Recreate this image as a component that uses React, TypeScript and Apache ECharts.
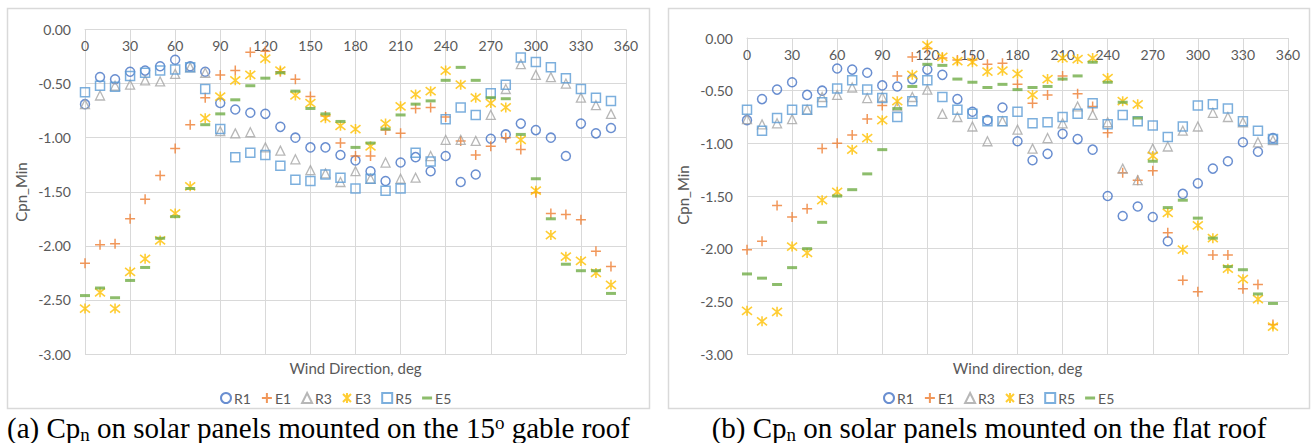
import React, { useEffect, useRef } from "react";
import * as echarts from "echarts";

const directions = [0, 10, 20, 30, 40, 50, 60, 70, 80, 90, 100, 110, 120, 130, 140, 150, 160, 170, 180, 190, 200, 210, 220, 230, 240, 250, 260, 270, 280, 290, 300, 310, 320, 330, 340, 350];
const seriesNames = ["R1", "E1", "R3", "E3", "R5", "E5"];

// (a) 15 deg gable roof
const R1a = [-0.69, -0.44, -0.46, -0.39, -0.38, -0.34, -0.28, -0.34, -0.39, -0.68, -0.74, -0.77, -0.78, -0.90, -1.00, -1.09, -1.09, -1.16, -1.21, -1.31, -1.40, -1.23, -1.18, -1.31, -1.17, -1.41, -1.34, -1.01, -0.97, -0.87, -0.93, -1.00, -1.17, -0.87, -0.96, -0.91];
const E1a = [-2.16, -1.99, -1.98, -1.75, -1.57, -1.35, -1.10, -0.88, -0.63, -0.42, -0.38, -0.21, -0.20, -0.39, -0.46, -0.62, -0.80, -1.05, -1.17, -1.17, -0.93, -0.96, -0.73, -0.72, -0.81, -1.03, -1.16, -1.08, -1.00, -1.11, -1.51, -1.70, -1.71, -1.76, -2.05, -2.19];
const R3a = [-0.69, -0.61, -0.52, -0.51, -0.47, -0.48, -0.41, -0.35, -0.40, -0.94, -0.96, -0.95, -1.09, -1.12, -1.20, -1.30, -1.33, -1.41, -1.31, -1.38, -1.23, -1.38, -1.37, -1.17, -1.02, -1.02, -1.03, -0.79, -0.55, -0.32, -0.42, -0.44, -0.50, -0.63, -0.70, -0.78];
const E3a = [-2.58, -2.43, -2.58, -2.24, -2.12, -1.95, -1.70, -1.45, -0.82, -0.62, -0.47, -0.42, -0.27, -0.38, -0.61, -0.68, -0.82, -0.89, -0.92, -1.08, -0.87, -0.71, -0.60, -0.57, -0.38, -0.51, -0.63, -0.68, -0.72, -1.02, -1.49, -1.90, -2.10, -2.14, -2.25, -2.36];
const R5a = [-0.58, -0.52, -0.53, -0.43, -0.40, -0.38, -0.37, -0.35, -0.55, -0.92, -1.18, -1.14, -1.16, -1.26, -1.39, -1.40, -1.34, -1.37, -1.47, -1.38, -1.49, -1.47, -1.14, -1.22, -0.83, -0.72, -0.79, -0.59, -0.51, -0.26, -0.30, -0.35, -0.45, -0.55, -0.63, -0.66];
const E5a = [-2.46, -2.39, -2.48, -2.32, -2.20, -1.93, -1.73, -1.47, -0.88, -0.78, -0.65, -0.52, -0.45, -0.40, -0.57, -0.73, -0.78, -0.85, -1.09, -1.05, -0.92, -0.79, -0.69, -0.66, -0.47, -0.35, -0.47, -0.63, -0.64, -0.97, -1.38, -1.75, -2.17, -2.23, -2.23, -2.44];

// (b) flat roof
const R1b = [-0.78, -0.58, -0.49, -0.42, -0.54, -0.50, -0.29, -0.30, -0.33, -0.45, -0.46, -0.39, -0.30, -0.35, -0.58, -0.70, -0.78, -0.66, -0.98, -1.16, -1.10, -0.91, -0.96, -1.06, -1.50, -1.69, -1.60, -1.70, -1.93, -1.48, -1.38, -1.24, -1.17, -0.99, -1.08, -0.95];
const E1b = [-2.01, -1.93, -1.59, -1.70, -1.62, -1.05, -1.00, -0.92, -0.77, -0.64, -0.36, -0.18, -0.10, -0.19, -0.21, -0.21, -0.25, -0.24, -0.44, -0.62, -0.54, -0.36, -0.53, -0.65, -0.90, -1.28, -1.35, -1.26, -1.85, -2.30, -2.41, -2.06, -2.06, -2.38, -2.34, -2.72];
const R3b = [-0.77, -0.82, -0.81, -0.77, -0.68, -0.56, -0.54, -0.47, -0.57, -0.56, -0.65, -0.56, -0.49, -0.72, -0.75, -0.84, -0.98, -0.79, -0.87, -1.05, -0.95, -0.81, -0.65, -0.73, -0.80, -1.24, -1.35, -1.05, -1.03, -0.88, -0.84, -0.71, -0.75, -0.80, -0.99, -0.97];
const E3b = [-2.59, -2.69, -2.60, -1.98, -2.04, -1.54, -1.46, -1.06, -0.95, -0.78, -0.60, -0.35, -0.07, -0.18, -0.22, -0.23, -0.32, -0.31, -0.34, -0.54, -0.39, -0.19, -0.20, -0.19, -0.38, -0.60, -0.63, -1.12, -1.66, -2.01, -1.78, -1.90, -2.19, -2.29, -2.48, -2.74];
const R5b = [-0.68, -0.88, -0.76, -0.68, -0.68, -0.61, -0.48, -0.40, -0.49, -0.57, -0.75, -0.60, -0.40, -0.56, -0.68, -0.72, -0.79, -0.79, -0.70, -0.81, -0.80, -0.75, -0.72, -0.62, -0.82, -0.73, -0.79, -0.83, -0.94, -0.84, -0.64, -0.63, -0.67, -0.79, -0.88, -0.96];
const E5b = [-2.24, -2.28, -2.34, -2.18, -2.00, -1.75, -1.50, -1.44, -1.29, -1.06, -0.67, -0.46, -0.25, -0.26, -0.39, -0.42, -0.47, -0.44, -0.49, -0.47, -0.46, -0.39, -0.36, -0.23, -0.42, -0.61, -0.76, -1.17, -1.61, -1.54, -1.71, -1.90, -2.17, -2.20, -2.43, -2.52];

const captionA = "(a) Cp{sub|n} on solar panels mounted on the 15{sup|o} gable roof";
const captionB = "(b) Cp{sub|n} on solar panels mounted on the flat roof";
const xTitleA = "Wind Direction, deg";
const xTitleB = "Wind direction, deg";
const yTitle = "Cpn_Min";

const FONT = "Lato, 'Open Sans', sans-serif";
const SERIF = "'Liberation Serif', 'Times New Roman', serif";
const AXIS_COLOR = "#595959";
const GRID_COLOR = "#d9d9d9";

const PLUS = "path://M5,0L5,10M0,5L10,5";
const STAR = "path://M1,1L9,9M9,1L1,9M5,0L5,10";

const styles: Record<string, any> = {
  R1: { symbol: "circle", symbolSize: 9, itemStyle: { color: "rgba(255,255,255,0)", borderColor: "#4472C4", borderWidth: 1.5 } },
  E1: { symbol: PLUS, symbolSize: 10, itemStyle: { color: "rgba(255,255,255,0)", borderColor: "#ED7D31", borderWidth: 1.5 } },
  R3: { symbol: "triangle", symbolSize: 9, itemStyle: { color: "rgba(255,255,255,0)", borderColor: "#A5A5A5", borderWidth: 1.3 } },
  E3: { symbol: STAR, symbolSize: 10, itemStyle: { color: "rgba(255,255,255,0)", borderColor: "#FFC000", borderWidth: 1.6 } },
  R5: { symbol: "rect", symbolSize: 9, itemStyle: { color: "rgba(255,255,255,0)", borderColor: "#5B9BD5", borderWidth: 1.5 } },
  E5: { symbol: "rect", symbolSize: [10, 3], itemStyle: { color: "#70AD47", borderWidth: 0 } },
};

const legendIcons: Record<string, string> = {
  R1: "circle",
  E1: PLUS,
  R3: "triangle",
  E3: STAR,
  R5: "rect",
  E5: "path://M0,4L10,4L10,7L0,7Z",
};

function makeSeries(name: string, values: number[], idx: number) {
  return {
    type: "scatter",
    name,
    xAxisIndex: idx,
    yAxisIndex: idx,
    data: directions.map((d, i) => [d, values[i]]),
    symbol: styles[name].symbol,
    symbolSize: styles[name].symbolSize,
    itemStyle: styles[name].itemStyle,
    emphasis: { disabled: true },
  };
}

function xAxis(gridIndex: number) {
  return {
    type: "value",
    gridIndex,
    min: 0,
    max: 360,
    interval: 30,
    position: "top",
    axisLine: { show: true, onZero: false, lineStyle: { color: GRID_COLOR, width: 1 } },
    axisTick: { show: false },
    axisLabel: { inside: true, color: AXIS_COLOR, fontSize: 14, fontFamily: FONT, margin: 9 },
    splitLine: { show: true, lineStyle: { color: GRID_COLOR, width: 1 } },
  };
}

function yAxis(gridIndex: number) {
  return {
    type: "value",
    gridIndex,
    min: -3,
    max: 0,
    interval: 0.5,
    axisLine: { show: true, lineStyle: { color: GRID_COLOR, width: 1 } },
    axisTick: { show: false },
    axisLabel: { color: AXIS_COLOR, fontSize: 14, fontFamily: FONT, margin: 14, formatter: (v: number) => v.toFixed(2) },
    splitLine: { show: true, lineStyle: { color: GRID_COLOR, width: 1 } },
  };
}

function legend(left: number) {
  return {
    left,
    top: 386,
    itemWidth: 10,
    itemHeight: 10,
    itemGap: 10,
    selectedMode: false,
    textStyle: { color: AXIS_COLOR, fontSize: 14, fontFamily: FONT, padding: [0, 0, 0, -2] },
    data: seriesNames.map((n) => ({ name: n, icon: legendIcons[n] })),
  };
}

const captionRich = {
  sub: { fontSize: 19, fontFamily: SERIF, fill: "#000", padding: [12, 0, 0, 0] },
  sup: { fontSize: 19, fontFamily: SERIF, fill: "#000", padding: [0, 0, 12, 0] },
};

export default function App() {
  const ref = useRef<HTMLDivElement>(null);
  useEffect(() => {
    if (!ref.current) return;
    const chart = echarts.init(ref.current, undefined, { renderer: "svg" });
    const valsA = [R1a, E1a, R3a, E3a, R5a, E5a];
    const valsB = [R1b, E1b, R3b, E3b, R5b, E5b];
    const series: any[] = [];
    seriesNames.forEach((n, i) => series.push(makeSeries(n, valsA[i], 0)));
    seriesNames.forEach((n, i) => series.push(makeSeries(n, valsB[i], 1)));
    chart.setOption({
      animation: false,
      backgroundColor: "#ffffff",
      grid: [
        { left: 85, top: 29.5, width: 541, height: 324.5, containLabel: false },
        { left: 747, top: 38, width: 541, height: 316, containLabel: false },
      ],
      xAxis: [xAxis(0), xAxis(1)],
      yAxis: [yAxis(0), yAxis(1)],
      legend: [legend(215), legend(878)],
      series,
      graphic: [
        { type: "rect", silent: true, shape: { x: 7.5, y: 8.5, width: 642, height: 400 }, style: { fill: "none", stroke: GRID_COLOR, lineWidth: 1.5 } },
        { type: "rect", silent: true, shape: { x: 668.5, y: 8.5, width: 641, height: 400 }, style: { fill: "none", stroke: GRID_COLOR, lineWidth: 1.5 } },
        { type: "text", silent: true, x: 355.5, y: 368, style: { text: xTitleA, fill: AXIS_COLOR, font: `15px ${FONT}`, textAlign: "center", textVerticalAlign: "middle" } },
        { type: "text", silent: true, x: 1017.5, y: 368, style: { text: xTitleB, fill: AXIS_COLOR, font: `15px ${FONT}`, textAlign: "center", textVerticalAlign: "middle" } },
        { type: "text", silent: true, x: 21, y: 192, rotation: Math.PI / 2, style: { text: yTitle, fill: AXIS_COLOR, font: `15px ${FONT}`, textAlign: "center", textVerticalAlign: "middle" } },
        { type: "text", silent: true, x: 683, y: 195, rotation: Math.PI / 2, style: { text: yTitle, fill: AXIS_COLOR, font: `15px ${FONT}`, textAlign: "center", textVerticalAlign: "middle" } },
        { type: "text", silent: true, x: 7, y: 428, style: { text: captionA, fill: "#000", font: `29px ${SERIF}`, textAlign: "left", textVerticalAlign: "middle", rich: captionRich } },
        { type: "text", silent: true, x: 989, y: 428, style: { text: captionB, fill: "#000", font: `29px ${SERIF}`, textAlign: "center", textVerticalAlign: "middle", rich: captionRich } },
      ],
    });
    return () => chart.dispose();
  }, []);
  return <div ref={ref} style={{ position: "absolute", left: 0, top: 0, width: 1311, height: 443 }} />;
}
